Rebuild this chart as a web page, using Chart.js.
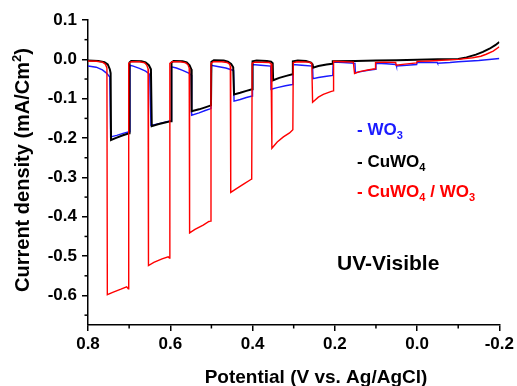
<!DOCTYPE html>
<html>
<head>
<meta charset="utf-8">
<script src="https://cdn.jsdelivr.net/npm/chart.js@4.4.0/dist/chart.umd.min.js"></script>
<style>
  body { margin: 0; background: #fff; }
  #wrap { width: 517px; height: 386px; }
</style>
</head>
<body>
<div id="wrap"><canvas id="chopChart" width="517" height="386"></canvas></div>
<script>
// Datos (potencial en V, corriente en mA/cm2)
const compPotential = [0.800, 0.780, 0.765, 0.758, 0.754, 0.753, 0.740, 0.720, 0.706, 0.702,
  0.701, 0.695, 0.675, 0.662, 0.657, 0.654, 0.653, 0.640, 0.620, 0.605, 0.602,
  0.601, 0.595, 0.575, 0.562, 0.557, 0.554, 0.553, 0.540, 0.520, 0.506, 0.502,
  0.501, 0.495, 0.475, 0.462, 0.456, 0.454, 0.453, 0.440, 0.420, 0.405, 0.402,
  0.401, 0.395, 0.360, 0.355, 0.353, 0.340, 0.325, 0.310, 0.302,
  0.301, 0.290, 0.262, 0.256, 0.254, 0.240, 0.228, 0.210, 0.204,
  0.203, 0.180, 0.155, 0.152, 0.140, 0.120, 0.102,
  0.101, 0.080, 0.052, 0.051, 0.030, 0.001,
  0.000, -0.030, -0.050, -0.100, -0.135, -0.155, -0.168, -0.185, -0.200];
const compCurrent = [-0.004, -0.005, -0.007, -0.012, -0.022, -0.598, -0.592, -0.584, -0.578, -0.583,
  -0.010, -0.006, -0.006, -0.009, -0.015, -0.024, -0.524, -0.516, -0.507, -0.502, -0.505,
  -0.010, -0.006, -0.006, -0.009, -0.014, -0.022, -0.441, -0.432, -0.421, -0.412, -0.411,
  -0.010, -0.006, -0.006, -0.008, -0.012, -0.018, -0.338, -0.329, -0.316, -0.306, -0.304,
  -0.010, -0.007, -0.008, -0.011, -0.226, -0.210, -0.197, -0.187, -0.179,
  -0.008, -0.006, -0.007, -0.010, -0.109, -0.096, -0.089, -0.082, -0.080,
  -0.005, -0.006, -0.007, -0.036, -0.031, -0.027, -0.024,
  -0.008, -0.007, -0.008, -0.015, -0.012, -0.009,
  -0.005, -0.004, -0.003, 0.000, 0.004, 0.008, 0.013, 0.021, 0.032];

const cuwo4Potential = [0.800, 0.775, 0.760, 0.752, 0.747, 0.745, 0.744, 0.730, 0.715, 0.700,
  0.699, 0.695, 0.670, 0.660, 0.652, 0.647, 0.645, 0.630, 0.610, 0.598,
  0.597, 0.592, 0.570, 0.560, 0.553, 0.549, 0.548, 0.530, 0.515, 0.501,
  0.500, 0.494, 0.470, 0.460, 0.452, 0.447, 0.445, 0.430, 0.415, 0.401,
  0.400, 0.390, 0.365, 0.355, 0.351, 0.350, 0.335, 0.318, 0.303,
  0.302, 0.290, 0.270, 0.258, 0.254, 0.253, 0.240, 0.220, 0.206,
  0.205, 0.150, 0.100, 0.050, 0.000, -0.050, -0.100, -0.120, -0.143, -0.160, -0.176, -0.190, -0.200];
const cuwo4Current = [-0.003, -0.004, -0.007, -0.013, -0.025, -0.035, -0.205, -0.199, -0.193, -0.188,
  -0.008, -0.004, -0.005, -0.008, -0.015, -0.025, -0.170, -0.165, -0.160, -0.157,
  -0.008, -0.004, -0.005, -0.008, -0.015, -0.025, -0.132, -0.127, -0.122, -0.117,
  -0.006, -0.002, -0.003, -0.006, -0.012, -0.020, -0.089, -0.085, -0.080, -0.076,
  -0.005, -0.003, -0.004, -0.006, -0.010, -0.053, -0.047, -0.042, -0.038,
  -0.005, -0.003, -0.004, -0.008, -0.013, -0.021, -0.017, -0.013, -0.011,
  -0.005, -0.004, -0.003, -0.002, -0.001, 0.000, 0.001, 0.005, 0.012, 0.019, 0.027, 0.036, 0.044];

const wo3Potential = [0.800, 0.780, 0.765, 0.755, 0.747, 0.745, 0.730, 0.715, 0.700,
  0.698, 0.690, 0.675, 0.660, 0.650, 0.647, 0.630, 0.610, 0.598,
  0.597, 0.585, 0.570, 0.555, 0.549, 0.548, 0.530, 0.515, 0.501,
  0.500, 0.485, 0.465, 0.450, 0.446, 0.445, 0.430, 0.415, 0.401,
  0.400, 0.380, 0.356, 0.355, 0.340, 0.320, 0.303,
  0.302, 0.280, 0.254, 0.253, 0.240, 0.220, 0.205,
  0.204, 0.180, 0.151, 0.150, 0.130, 0.115, 0.101,
  0.100, 0.075, 0.051, 0.050, 0.025, 0.001,
  0.000, -0.030, -0.049, -0.050, -0.080, -0.100, -0.150, -0.200];
const wo3Current = [-0.017, -0.020, -0.027, -0.035, -0.045, -0.197, -0.193, -0.188, -0.184,
  -0.015, -0.017, -0.023, -0.030, -0.038, -0.168, -0.164, -0.159, -0.156,
  -0.019, -0.022, -0.028, -0.035, -0.040, -0.142, -0.136, -0.130, -0.125,
  -0.015, -0.018, -0.022, -0.027, -0.029, -0.106, -0.102, -0.097, -0.093,
  -0.013, -0.015, -0.017, -0.076, -0.072, -0.067, -0.064,
  -0.013, -0.015, -0.017, -0.049, -0.046, -0.043, -0.041,
  -0.007, -0.008, -0.010, -0.034, -0.030, -0.027, -0.025,
  -0.010, -0.011, -0.013, -0.017, -0.015, -0.013,
  -0.008, -0.008, -0.008, -0.010, -0.008, -0.006, -0.003, 0.002];

const xTickValues = [0.8, 0.6, 0.4, 0.2, 0.0, -0.2];
const xMinorValues = [0.7, 0.5, 0.3, 0.1, -0.1];
const yTickValues = [0.1, 0.0, -0.1, -0.2, -0.3, -0.4, -0.5, -0.6];
const yMinorValues = [0.05, -0.05, -0.15, -0.25, -0.35, -0.45, -0.55, -0.65];

const FONT = '"Liberation Sans", Arial, sans-serif';
const AZUL = '#1a1aff';
const ROJO = '#ff0000';

function armarPuntos(pot, cur) {
  return pot.map((p, i) => ({ x: p, y: cur[i] }));
}

// Dibuja texto con sub/superindices: partes = [[texto, 'n'|'sub'|'sup'], ...]
function textoCompuesto(ctx, partes, x, y, size) {
  let cx = x;
  partes.forEach(([t, tipo]) => {
    let s = size, dy = 0;
    if (tipo === 'sub') { s = size * 0.65; dy = size * 0.22; }
    if (tipo === 'sup') { s = size * 0.65; dy = -size * 0.38; }
    ctx.font = 'bold ' + s + 'px ' + FONT;
    ctx.fillText(t, cx, y + dy);
    cx += ctx.measureText(t).width;
  });
  return cx - x;
}

function anchoCompuesto(ctx, partes, size) {
  let w = 0;
  partes.forEach(([t, tipo]) => {
    const s = tipo === 'n' ? size : size * 0.65;
    ctx.font = 'bold ' + s + 'px ' + FONT;
    w += ctx.measureText(t).width;
  });
  return w;
}

const extras = {
  id: 'extras',
  afterDraw(chart) {
    const ctx = chart.ctx;
    const xs = chart.scales.x, ys = chart.scales.y;
    ctx.save();
    // ticks menores
    ctx.strokeStyle = '#000';
    ctx.lineWidth = 1.5;
    xMinorValues.forEach(v => {
      const px = xs.getPixelForValue(v);
      ctx.beginPath();
      ctx.moveTo(px, ys.bottom);
      ctx.lineTo(px, ys.bottom + 3.5);
      ctx.stroke();
    });
    yMinorValues.forEach(v => {
      const py = ys.getPixelForValue(v);
      ctx.beginPath();
      ctx.moveTo(xs.left, py);
      ctx.lineTo(xs.left - 3.5, py);
      ctx.stroke();
    });

    ctx.textBaseline = 'alphabetic';
    ctx.textAlign = 'left';
    ctx.fillStyle = '#000';

    // titulo eje x
    const tx = [['Potential (V vs. Ag/AgCl)', 'n']];
    const wx = anchoCompuesto(ctx, tx, 19);
    textoCompuesto(ctx, tx, 316 - wx / 2, 383, 19);

    // titulo eje y
    const ty = [['Current density (mA/Cm', 'n'], ['2', 'sup'], [')', 'n']];
    const wy = anchoCompuesto(ctx, ty, 20);
    ctx.save();
    ctx.translate(29, 170);
    ctx.rotate(-Math.PI / 2);
    textoCompuesto(ctx, ty, -wy / 2, 0, 20);
    ctx.restore();

    // leyenda
    ctx.fillStyle = AZUL;
    textoCompuesto(ctx, [['- WO', 'n'], ['3', 'sub']], 357, 135, 17);
    ctx.fillStyle = '#000';
    textoCompuesto(ctx, [['- CuWO', 'n'], ['4', 'sub']], 357, 167, 17);
    ctx.fillStyle = ROJO;
    textoCompuesto(ctx, [['- CuWO', 'n'], ['4', 'sub'], [' / WO', 'n'], ['3', 'sub']], 357, 197, 17);

    // etiqueta
    ctx.fillStyle = '#000';
    textoCompuesto(ctx, [['UV-Visible', 'n']], 337, 270, 21);
    ctx.restore();
  }
};

const ejeComun = {
  type: 'linear',
  border: { display: true, color: '#000', width: 1.5 },
  grid: { display: true, drawOnChartArea: false, drawTicks: true, tickLength: 6, color: '#000', lineWidth: 1.5 },
  ticks: { color: '#000', font: { family: FONT, size: 17, weight: 'bold' }, callback: v => Number(v).toFixed(1) }
};

new Chart(document.getElementById('chopChart'), {
  type: 'line',
  data: {
    datasets: [
      { label: 'CuWO4 / WO3', data: armarPuntos(compPotential, compCurrent), borderColor: ROJO, borderWidth: 1.4 },
      { label: 'CuWO4', data: armarPuntos(cuwo4Potential, cuwo4Current), borderColor: '#000', borderWidth: 2 },
      { label: 'WO3', data: armarPuntos(wo3Potential, wo3Current), borderColor: AZUL, borderWidth: 1.4 }
    ]
  },
  options: {
    responsive: false,
    animation: false,
    events: [],
    layout: { padding: { left: 0, right: 16, top: 20, bottom: 0 } },
    elements: { point: { radius: 0 }, line: { tension: 0 } },
    plugins: { legend: { display: false }, tooltip: { enabled: false } },
    scales: {
      x: Object.assign({}, ejeComun, {
        reverse: true, min: -0.2, max: 0.8,
        ticks: Object.assign({}, ejeComun.ticks, { padding: 3, maxRotation: 0 }),
        afterBuildTicks: s => { s.ticks = xTickValues.map(v => ({ value: v })); },
        afterFit: s => { s.height = 61; }
      }),
      y: Object.assign({}, ejeComun, {
        min: -0.675, max: 0.1,
        ticks: Object.assign({}, ejeComun.ticks, { padding: 5 }),
        afterBuildTicks: s => { s.ticks = yTickValues.map(v => ({ value: v })); },
        afterFit: s => { s.width = 88; }
      })
    }
  },
  plugins: [extras]
});
</script>
</body>
</html>
